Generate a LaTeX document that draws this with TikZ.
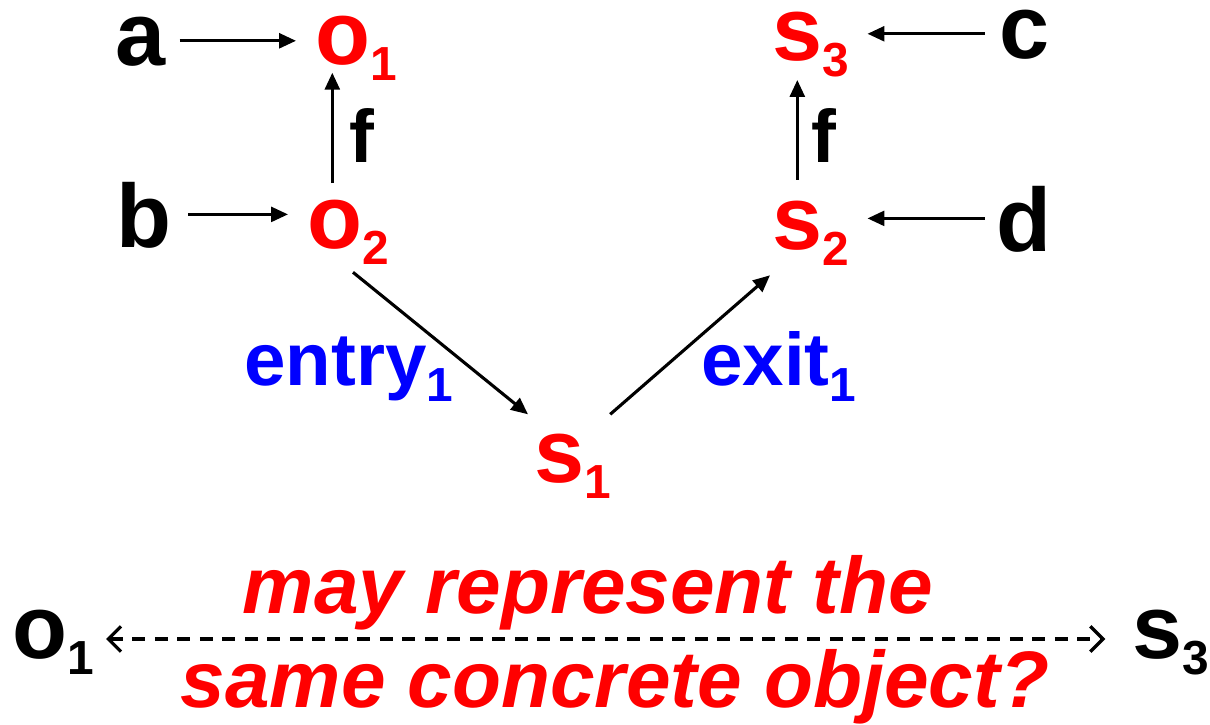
\documentclass[tikz,border=0pt]{standalone}
\usepackage{fontspec}
\setmainfont{Liberation Sans}
\usetikzlibrary{arrows.meta}
\definecolor{pred}{RGB}{255,0,0}
\definecolor{pblue}{RGB}{0,0,255}
\newcommand{\idx}[1]{\raisebox{-12pt}{\fontsize{34}{34}\selectfont #1}}
\begin{document}
\begin{tikzpicture}[x=0.025cm, y=-0.025cm,
  letter/.style={font=\fontsize{64}{64}\selectfont\bfseries, inner sep=0pt,
    text depth=0pt, anchor=base west},
  obj/.style={letter, text=pred, text height=33pt},
  lab/.style={font=\fontsize{53}{53}\selectfont\bfseries, inner sep=0pt,
    anchor=base west},
  note/.style={font=\fontsize{57}{57}\selectfont\bfseries\itshape, text=pred,
    inner sep=0pt, anchor=base},
  arr/.style={line width=2.2pt, -{Triangle[length=12pt,width=10.5pt]}},
  same/.style={line width=2.3pt, dash pattern=on 9pt off 7pt,
    {Straight Barb[length=9pt,width=18pt]}-{Straight Barb[length=9pt,width=18pt]}}]
  \useasboundingbox (0,0) rectangle (1210,724);
  % left column
  \node[letter] (a) at (115,65) {a};
  \node[obj] (o1) at (315,64) {o\idx{1}};
  \node[letter] (b) at (116,247) {b};
  \node[obj] (o2) at (307,248) {o\idx{2}};
  \node[lab] (f1) at (349,162) {f};
  % right column
  \node[obj] (s3) at (772,60) {s\idx{3}};
  \node[letter] (c) at (999,58) {c};
  \node[obj] (s2) at (772,249) {s\idx{2}};
  \node[letter] (d) at (996,251) {d};
  \node[lab] (f2) at (811,162) {f};
  % middle
  \node[obj] (s1) at (534,482) {s\idx{1}};
  \node[lab, text=pblue] (entry) at (244,385) {entry\idx{1}};
  \node[lab, text=pblue] (exit) at (701,385) {exit\idx{1}};
  % bottom
  \node[obj, text=black] (p) at (12,658) {o\idx{1}};
  \node[obj, text=black] (q) at (1132,658) {s\idx{3}};
  \node[note] (may) at (588,613) {may represent the};
  \node[note] (conc) at (615,707) {same concrete object?};

  \draw[arr, shorten <=10pt, shorten >=13.5pt] (a.east) -- (a.east -| o1.west);
  \draw[arr, shorten <=12pt, shorten >=13.5pt] (b.east) -- (b.east -| o2.west);
  \draw[arr, shorten <=10pt, shorten >=13pt] (c.west) -- (c.west -| s3.east);
  \draw[arr, shorten <=8pt, shorten >=13pt] (d.west) -- (d.west -| s2.east);
  \draw[arr, shorten <=13pt, shorten >=6pt] ([xshift=18pt]o2.north west)
    -- ([xshift=18pt]o2.north west |- o1.south);
  \draw[arr, shorten <=16pt, shorten >=14pt] ([xshift=18pt]s2.north west)
    -- ([xshift=18pt]s2.north west |- s3.south);
  \draw[arr] ([shift={(46,24)}]o2.south west) -- ([shift={(-6,-21)}]s1.north west);
  \draw[arr] ([shift={(-1,-21)}]s1.north east) -- ([shift={(-2,26)}]s2.south west);
  \draw[same, shorten <=8.5pt, shorten >=19pt] ([yshift=-3pt]p.east)
    -- ([yshift=-3pt]p.east -| q.west);
\end{tikzpicture}
\end{document}
